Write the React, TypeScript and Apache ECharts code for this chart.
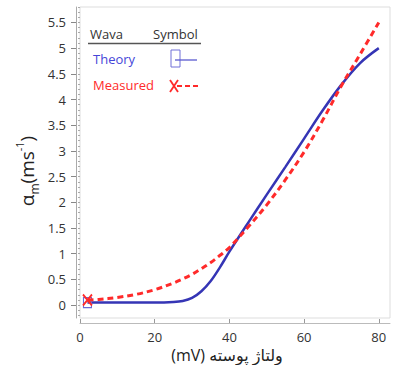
import React, { useEffect, useRef } from "react";
import * as echarts from "echarts";

const voltage = [2, 5, 10, 15, 20, 25, 27.5, 30, 32.5, 35, 37.5, 40, 45, 50, 55, 60, 65, 70, 75, 80];
const theory = [0.05, 0.05, 0.05, 0.05, 0.05, 0.06, 0.08, 0.14, 0.27, 0.47, 0.74, 1.04, 1.6, 2.15, 2.69, 3.24, 3.79, 4.29, 4.71, 5.0];
const measured = [0.1, 0.11, 0.15, 0.21, 0.3, 0.43, 0.51, 0.6, 0.71, 0.83, 0.97, 1.12, 1.52, 1.95, 2.44, 2.98, 3.6, 4.27, 4.88, 5.5];
const yTicks = [0, 0.5, 1, 1.5, 2, 2.5, 3, 3.5, 4, 4.5, 5, 5.5];
const xTicks = [0, 20, 40, 60, 80];
const legendHeader = ["Wava", "Symbol"];
const legendNames = ["Theory", "Measured"];

const BLUE = "#3535b5";
const RED = "#ff2a2a";
const FONT = "'Open Sans', 'DejaVu Sans', sans-serif";

export default function App() {
  const ref = useRef<HTMLDivElement>(null);
  useEffect(() => {
    if (!ref.current) return;
    const chart = echarts.init(ref.current, null, { renderer: "svg" });
    const minorVals: number[] = [];
    for (let i = -2; i <= 58; i++) minorVals.push(i / 10);
    const tData = voltage.map((x, i) =>
      i === 0
        ? { value: [x, theory[i]], symbol: "rect", symbolSize: [8, 10] }
        : { value: [x, theory[i]], symbol: "none" }
    );
    const mData = voltage.map((x, i) =>
      i === 0
        ? { value: [x, measured[i]], symbol: "path://M0,0L10,12M10,0L0,12", symbolSize: [9, 11] }
        : { value: [x, measured[i]], symbol: "none" }
    );
    chart.setOption({
      animation: false,
      grid: {
        left: 80,
        top: 7,
        right: 3,
        bottom: 47,
        show: true,
        borderColor: "#dddddd",
        borderWidth: 1,
      },
      xAxis: {
        type: "value",
        min: 0,
        max: 83,
        offset: 5,
        splitLine: { show: false },
        axisLine: { show: true, onZero: false, lineStyle: { color: "#bbbbbb", width: 1 } },
        axisTick: { show: true, inside: true, length: 4, customValues: xTicks, lineStyle: { color: "#999999" } },
        axisLabel: { customValues: xTicks, color: "#333333", fontSize: 13, fontFamily: FONT, margin: 7 },
      },
      yAxis: [
        {
          type: "value",
          min: -0.25,
          max: 5.8,
          offset: 4,
          splitLine: { show: false },
          axisLine: { show: true, onZero: false, lineStyle: { color: "#aaaaaa", width: 1 } },
          axisTick: { show: true, length: 5, customValues: yTicks, lineStyle: { color: "#888888" } },
          axisLabel: { customValues: yTicks, color: "#333333", fontSize: 13, fontFamily: FONT, margin: 10 },
        },
        {
          type: "value",
          min: -0.25,
          max: 5.8,
          offset: 4,
          position: "left",
          splitLine: { show: false },
          axisLine: { show: false },
          axisTick: { show: true, length: 2, customValues: minorVals, lineStyle: { color: "#aaaaaa" } },
          axisLabel: { show: false },
        },
      ],
      series: [
        {
          type: "line",
          data: tData,
          smooth: 0.35,
          showSymbol: true,
          lineStyle: { color: BLUE, width: 2.5 },
          itemStyle: { color: "rgba(0,0,0,0)", borderColor: "#6a6ad8", borderWidth: 1.2 },
          z: 3,
        },
        {
          type: "line",
          data: mData,
          smooth: 0.35,
          showSymbol: true,
          lineStyle: { color: RED, width: 3, type: [6, 4] },
          itemStyle: { color: "rgba(0,0,0,0)", borderColor: RED, borderWidth: 2 },
          z: 4,
        },
      ],
      graphic: [
        { type: "text", x: 90, y: 27, style: { text: legendHeader[0], font: `13px ${FONT}`, fill: "#333333" } },
        { type: "text", x: 153, y: 27, style: { text: legendHeader[1], font: `13px ${FONT}`, fill: "#333333" } },
        { type: "line", shape: { x1: 88, y1: 43.5, x2: 201, y2: 43.5 }, style: { stroke: "#555555", lineWidth: 1.5 } },
        { type: "text", x: 93, y: 52, style: { text: legendNames[0], font: `13px ${FONT}`, fill: "#4646d8" } },
        { type: "text", x: 93, y: 78, style: { text: legendNames[1], font: `13px ${FONT}`, fill: RED } },
        { type: "rect", shape: { x: 171, y: 50, width: 9, height: 17 }, style: { fill: "none", stroke: "#7070d8", lineWidth: 1 } },
        { type: "line", shape: { x1: 175, y1: 60, x2: 197, y2: 60 }, style: { stroke: "#5a5ad0", lineWidth: 1.3 } },
        { type: "line", shape: { x1: 170, y1: 80, x2: 178, y2: 92 }, style: { stroke: RED, lineWidth: 1.8 } },
        { type: "line", shape: { x1: 178, y1: 80, x2: 170, y2: 92 }, style: { stroke: RED, lineWidth: 1.8 } },
        { type: "line", shape: { x1: 177, y1: 86, x2: 201, y2: 86 }, style: { stroke: RED, lineWidth: 2, lineDash: [5, 3] } },
        {
          type: "text",
          x: 27,
          y: 171,
          rotation: Math.PI / 2,
          style: {
            text: "{a|α}{s|m}{a|(ms}{p|-1}{a|)}",
            align: "center",
            verticalAlign: "middle",
            fill: "#222222",
            rich: {
              a: { fontSize: 19, fontFamily: FONT, lineHeight: 26, verticalAlign: "middle", fill: "#222222" },
              s: { fontSize: 12, fontFamily: FONT, lineHeight: 26, verticalAlign: "bottom", fill: "#222222" },
              p: { fontSize: 11, fontFamily: FONT, lineHeight: 26, verticalAlign: "top", fill: "#222222" },
            },
          },
        },
        {
          type: "text",
          x: 227,
          y: 355,
          style: {
            text: "(mV) ولتاژ پوسته",
            align: "center",
            verticalAlign: "middle",
            font: `16px ${FONT}`,
            fill: "#222222",
          },
        },
      ],
    });
    return () => chart.dispose();
  }, []);
  return <div ref={ref} style={{ position: "fixed", left: 0, top: 0, width: 393, height: 365, background: "#fff" }} />;
}
